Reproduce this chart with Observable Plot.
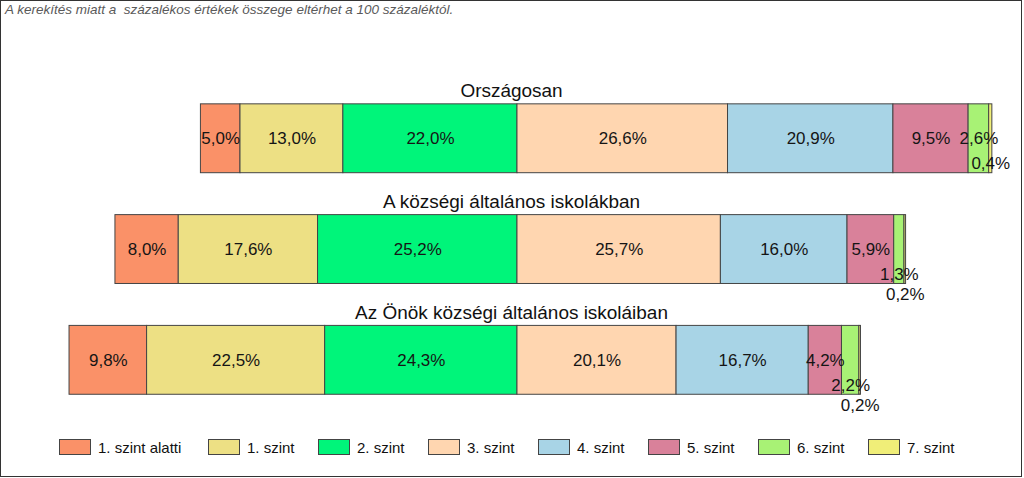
<!DOCTYPE html>
<html>
<head>
<meta charset="utf-8">
<script src="https://cdn.jsdelivr.net/npm/d3@7"></script>
<script src="https://cdn.jsdelivr.net/npm/@observablehq/plot@0.6"></script>
<style>
  html, body { margin: 0; padding: 0; background: #fff; }
  #wrap { position: relative; width: 1020px; height: 475px; border: 1px solid #333; background: #fff; font-family: "Liberation Sans", Arial, sans-serif; overflow: hidden; }
  #note { position: absolute; left: 4px; top: 1px; font-size: 13.5px; font-style: italic; color: #5a5a5a; white-space: pre; }
  #chart { position: absolute; left: 0px; top: 20px; }
  #legend { position: absolute; left: 0; top: 437px; width: 1020px; height: 20px; }
  .item { position: absolute; top: 0; display: flex; align-items: center; height: 18px; font-size: 15px; color: #111; white-space: nowrap; }
  .sw { width: 30px; height: 14px; border: 1px solid #444; margin-right: 7px; }
</style>
</head>
<body>
<div id="wrap">
  <div id="note">A kerekítés miatt a  százalékos értékek összege eltérhet a 100 százaléktól.</div>
  <div id="chart"></div>
  <div id="legend"></div>
</div>
<script>
const levels = ["1. szint alatti", "1. szint", "2. szint", "3. szint", "4. szint", "5. szint", "6. szint", "7. szint"];
const colors = ["#FA9168", "#EDE084", "#00F57A", "#FFD6B0", "#A8D4E6", "#D9819A", "#A8F275", "#F0EE78"];
const groups = ["Országosan", "A községi általános iskolákban", "Az Önök községi általános iskoláiban"];
const orszagosan = [5.0, 13.0, 22.0, 26.6, 20.9, 9.5, 2.6, 0.4];
const kozsegi = [8.0, 17.6, 25.2, 25.7, 16.0, 5.9, 1.3, 0.2];
const onok = [9.8, 22.5, 24.3, 20.1, 16.7, 4.2, 2.2, 0.2];
const seriesValues = [orszagosan, kozsegi, onok];
const leftCount = 3; // levels drawn left of the zero line

const fmt = v => v.toFixed(1).replace(".", ",") + "%";

// build segments
const segs = [];
groups.forEach((g, gi) => {
  const vals = seriesValues[gi];
  let cur = -d3.sum(vals.slice(0, leftCount));
  vals.forEach((v, li) => {
    segs.push({group: g, level: levels[li], li, x1: cur, x2: cur + v, value: v, label: fmt(v)});
    cur += v;
  });
});

const xDomain = [-60, 60];
const xRange = [517 - 60 * 7.93, 517 + 60 * 7.93];
const xs = Plot.scale({x: {domain: xDomain, range: xRange}});

// label collision avoidance: push overlapping labels down one level
const ctx = document.createElement("canvas").getContext("2d");
ctx.font = "17px 'Liberation Sans', Arial, sans-serif";
groups.forEach(g => {
  const placed = [];
  segs.filter(s => s.group === g).forEach(s => {
    const cx = xs.apply((s.x1 + s.x2) / 2);
    const w = ctx.measureText(s.label).width;
    let lvl = 0;
    while (placed.some(p => p.lvl === lvl && Math.abs(p.cx - cx) < (p.w + w) / 2)) lvl++;
    s.lvl = lvl;
    placed.push({cx, w, lvl});
  });
});
const lvlDy = [0, 25, 45, 65];

const plot = Plot.plot({
  width: 1022,
  height: 420,
  marginLeft: 0, marginRight: 0, marginTop: 0, marginBottom: 0,
  style: {fontFamily: "'Liberation Sans', Arial, sans-serif", background: "transparent"},
  x: {domain: xDomain, range: xRange, axis: null},
  y: {domain: groups, range: [41, 416], padding: 42 / 111, round: false, axis: null},
  color: {domain: levels, range: colors},
  marks: [
    Plot.barX(segs, {x1: "x1", x2: "x2", y: "group", fill: "level", stroke: "#444", strokeWidth: 1}),
    ...[0, 1, 2, 3].map(l => Plot.text(segs.filter(s => s.lvl === l), {
      x: d => (d.x1 + d.x2) / 2, y: "group", text: "label", dy: lvlDy[l],
      fontSize: 17, fill: "#151515"
    })),
    Plot.text(groups, {y: d => d, text: d => d, dy: -47.5, fontSize: 19, fill: "#111"})
  ]
});
document.getElementById("chart").appendChild(plot);

const legend = document.getElementById("legend");
levels.forEach((l, i) => {
  const it = document.createElement("div");
  it.className = "item";
  it.style.left = (58 + i * 110 + (i > 0 ? 39 : 0)) + "px";
  it.innerHTML = `<div class="sw" style="background:${colors[i]}"></div><span>${l}</span>`;
  legend.appendChild(it);
});
</script>
</body>
</html>
